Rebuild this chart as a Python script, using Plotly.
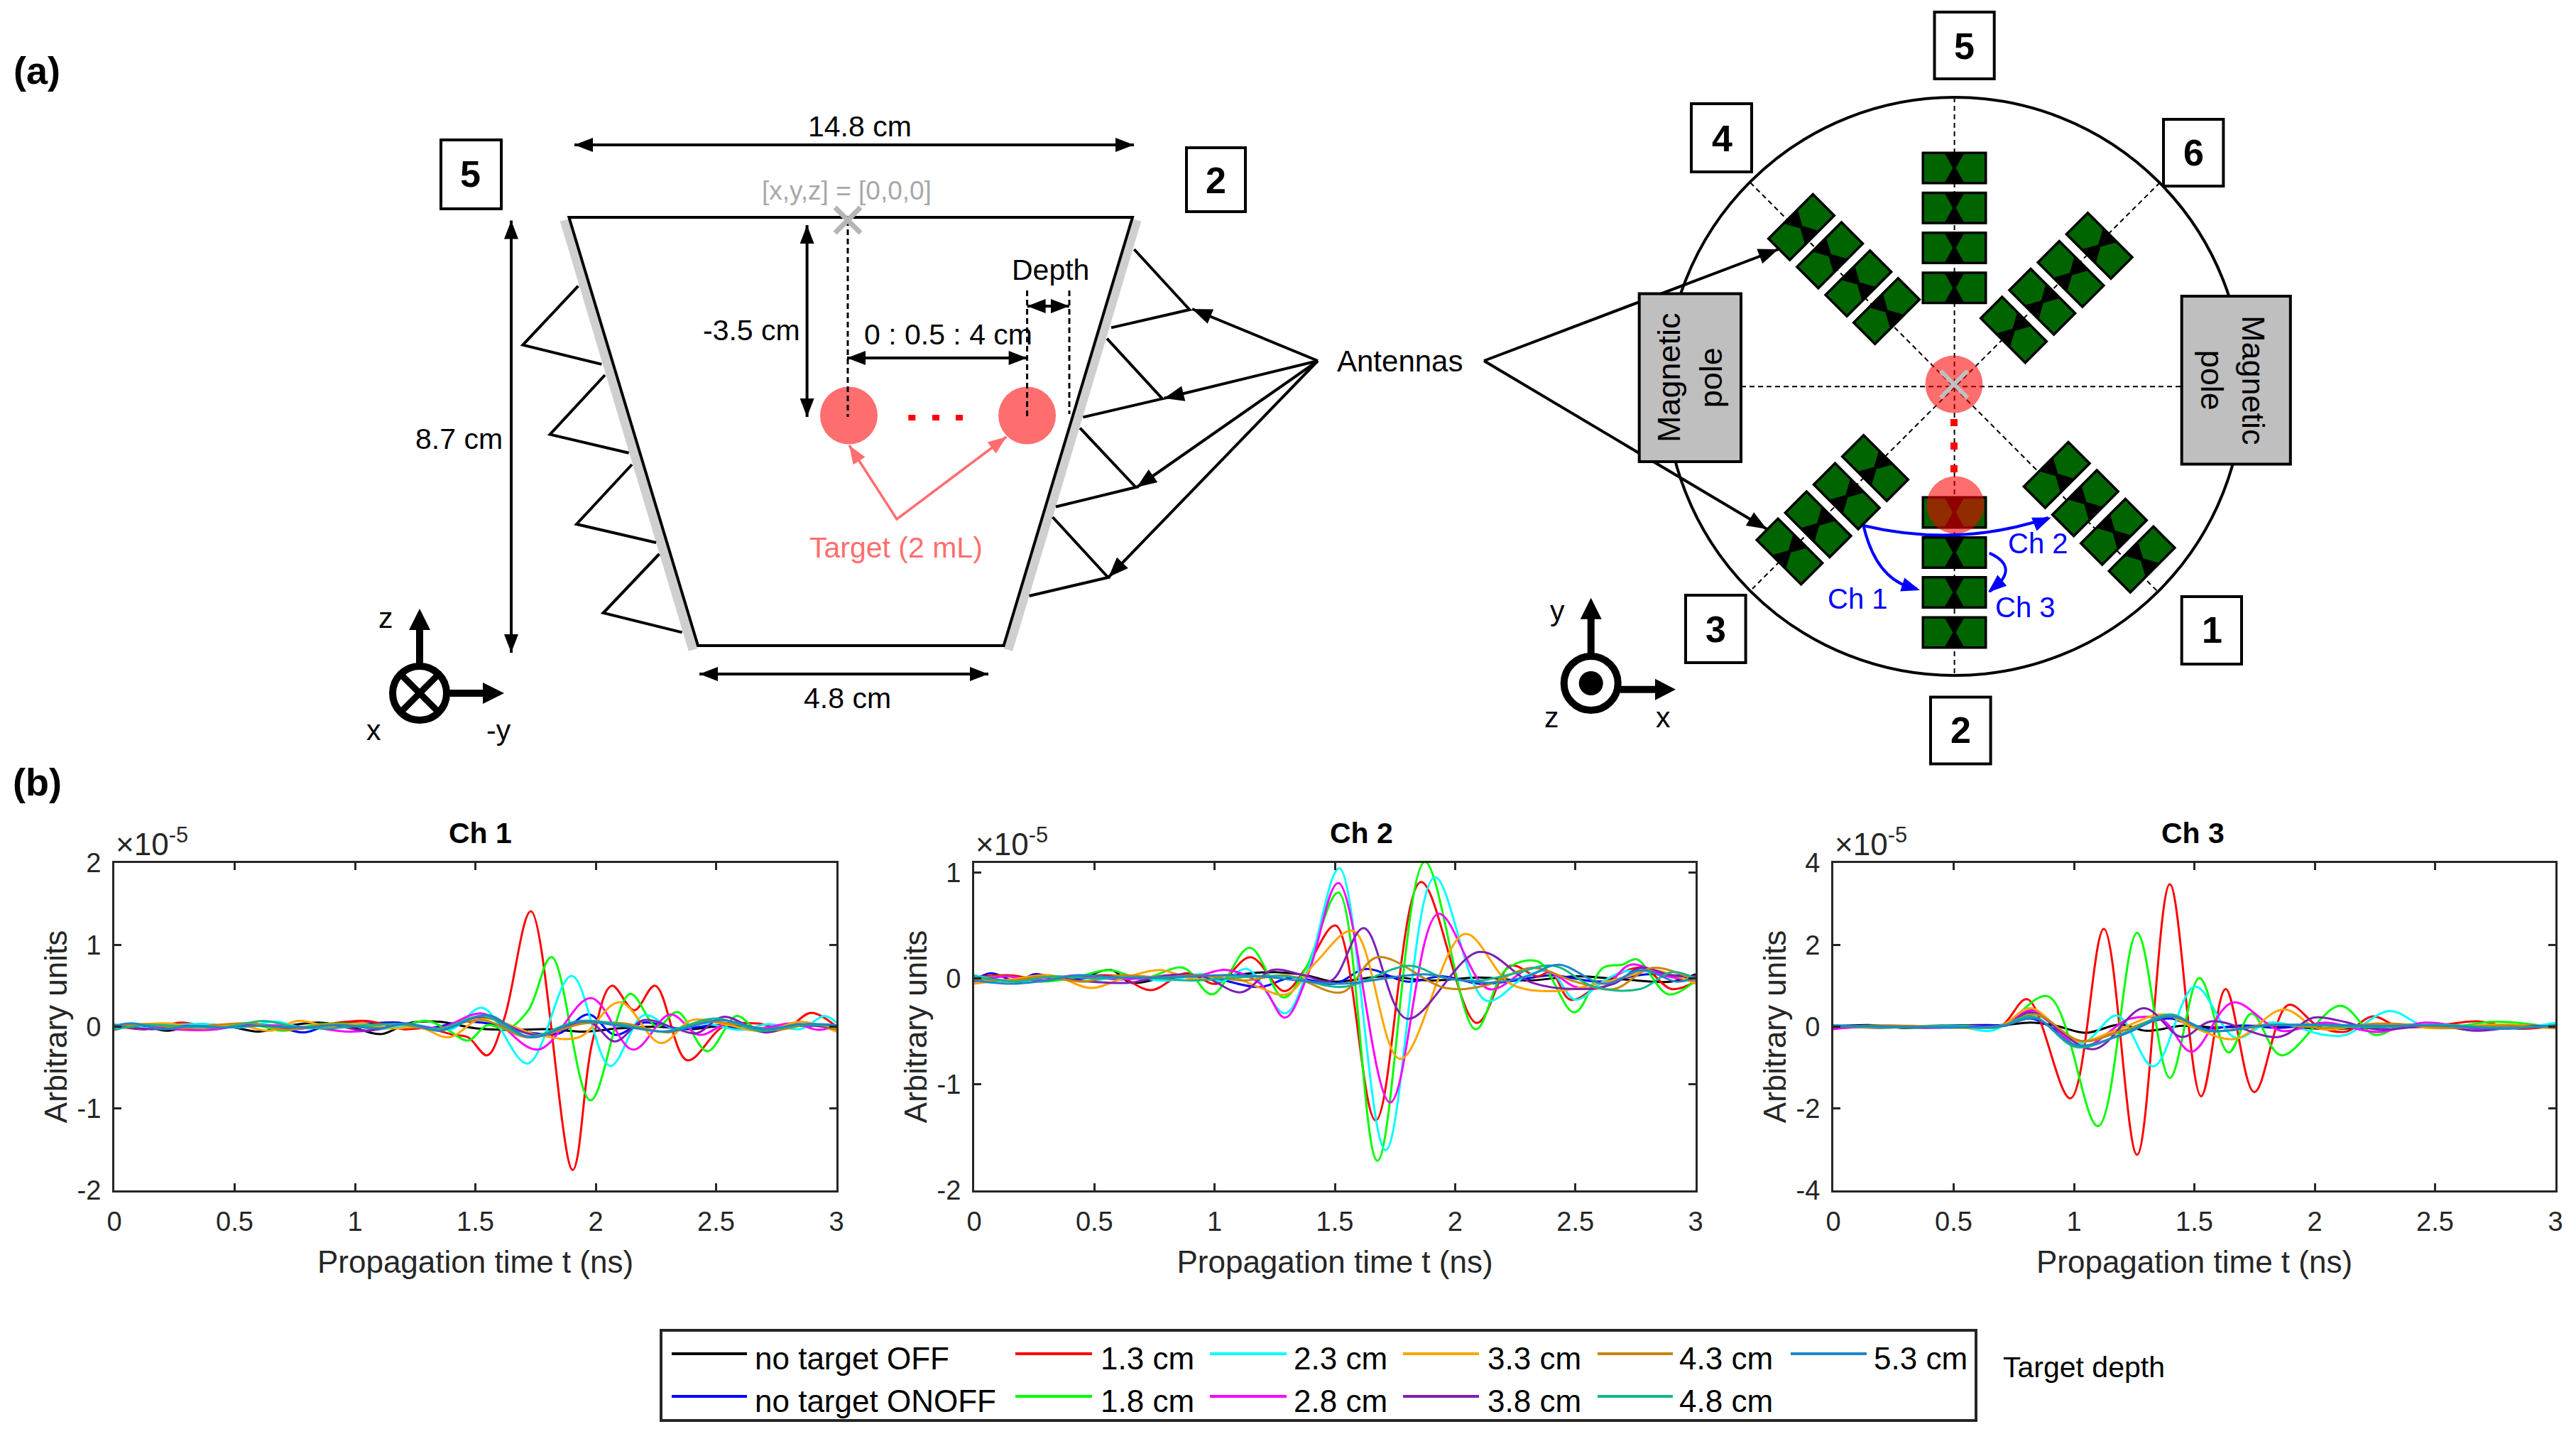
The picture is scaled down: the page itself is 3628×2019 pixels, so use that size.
import plotly.graph_objects as go

W, H = 3628, 2019
PAGE_MARGIN = 8  # the browser's default body margin
FW, FH = W - PAGE_MARGIN, H - PAGE_MARGIN

names = ["no target OFF", "no target ONOFF", "1.3 cm", "1.8 cm", "2.3 cm", "2.8 cm",
         "3.3 cm", "3.8 cm", "4.3 cm", "4.8 cm", "5.3 cm"]
colors = ["#000000", "#0000ff", "#ff0000", "#00ff00", "#00ffff", "#ff00ff",
          "#ffa500", "#7e1fb5", "#c8860d", "#14b88a", "#1f86c8"]

# ---------- Ch 1 (t in ns, amplitude in 1e-5) ----------
ch1_off = [(0,-.03),(.1,.02),(.22,-.05),(.35,.03),(.48,0),(.6,-.06),(.72,.01),(.85,.05),(1,-.02),(1.11,-.09),(1.22,.04),(1.35,.06),(1.5,-.02),(1.65,-.04),(1.8,-.03),(1.95,-.06),(2.1,-.02),(2.25,0),(2.4,-.03),(2.55,.02),(2.7,-.02),(2.85,.01),(3,.01)]
ch1_onoff = [(0,.02),(.12,-.03),(.25,.03),(.4,-.02),(.55,.02),(.68,-.01),(.79,-.07),(.9,.03),(1.05,.04),(1.18,.05),(1.3,-.02),(1.45,.06),(1.6,.02),(1.72,-.07),(1.85,-.08),(1.97,.15),(2.08,-.1),(2.2,.05),(2.35,-.03),(2.5,.02),(2.65,-.04),(2.8,.03),(3,-.01)]
ch1_13 = [(0,.01),(.13,-.03),(.28,.05),(.42,-.02),(.55,.03),(.7,-.03),(.85,.02),(1.05,.07),(1.2,-.03),(1.3,-.02),(1.41,-.1),(1.47,-.13),(1.549,-.35),(1.62,.1),(1.731,1.41),(1.904,-1.75),(1.985,-.2),(2.067,.5),(2.16,.2),(2.247,.5),(2.38,-.41),(2.53,0),(2.67,.04),(2.79,-.02),(2.895,.17),(3,0)]
ch1_18 = [(0,-.02),(.14,.02),(.3,-.03),(.45,.02),(.6,.01),(.7,-.05),(.85,.03),(1,.03),(1.15,-.02),(1.3,.07),(1.38,-.03),(1.47,-.17),(1.55,.02),(1.63,-.03),(1.72,.2),(1.817,.85),(1.978,-.9),(2.142,.4),(2.254,0),(2.34,.18),(2.463,-.3),(2.585,.13),(2.67,-.03),(2.8,.03),(3,-.02)]
ch1_23 = [(0,.03),(.1,-.02),(.24,.02),(.38,.03),(.52,-.01),(.67,.06),(.8,-.02),(.95,.02),(1.1,-.03),(1.25,.02),(1.4,-.03),(1.53,.23),(1.717,-.45),(1.9,.62),(2.06,-.48),(2.2,.14),(2.32,-.02),(2.45,.04),(2.6,-.04),(2.72,.03),(2.85,-.03),(2.95,.13),(3,.05)]
ch1_28 = [(0,-.04),(.1,.02),(.24,-.03),(.4,-.04),(.55,.02),(.7,.01),(.85,-.02),(.97,-.06),(1.1,-.03),(1.2,.04),(1.35,-.02),(1.53,.16),(1.76,-.28),(1.98,.35),(2.155,-.28),(2.31,.15),(2.43,-.1),(2.55,.04),(2.68,-.02),(2.82,.04),(2.93,-.04),(3,.02)]
ch1_33 = [(0,0),(.12,.03),(.23,.04),(.36,-.02),(.5,.03),(.65,-.05),(.76,.07),(.9,0),(1.02,.04),(1.15,-.02),(1.27,-.01),(1.39,-.13),(1.53,.1),(1.76,-.1),(1.93,-.13),(2.1,.3),(2.27,-.2),(2.4,.08),(2.55,.02),(2.7,-.06),(2.85,.06),(3,-.06)]
ch1_38 = [(0,.02),(.15,-.03),(.3,.01),(.45,-.01),(.6,.02),(.75,-.03),(.9,.02),(1.05,-.05),(1.2,.03),(1.35,-.03),(1.53,.12),(1.75,-.1),(1.97,.06),(2.08,-.18),(2.2,.08),(2.33,-.02),(2.42,-.08),(2.53,.12),(2.7,-.07),(2.85,.02),(3,-.03)]
ch1_43 = [(0,.01),(.13,.03),(.28,-.02),(.42,.02),(.58,.04),(.72,-.04),(.88,.03),(1.03,.01),(1.18,.03),(1.33,-.03),(1.53,.08),(1.72,-.13),(1.95,.04),(2.12,.04),(2.3,-.07),(2.45,.06),(2.6,.02),(2.75,-.04),(2.9,.03),(3,-.03)]
ch1_48 = [(0,-.03),(.15,.02),(.3,0),(.45,-.01),(.62,.07),(.75,0),(.9,-.02),(1.05,.02),(1.2,.03),(1.35,-.03),(1.53,.13),(1.72,-.12),(1.93,.07),(2.1,.03),(2.28,-.06),(2.5,.1),(2.68,-.05),(2.85,.02),(3,.01)]
ch1_53 = [(0,.01),(.08,.04),(.2,-.03),(.33,.01),(.46,-.01),(.6,.01),(.78,-.01),(.93,.02),(1.1,-.02),(1.22,.04),(1.35,-.05),(1.55,.14),(1.73,-.13),(1.93,.06),(2.1,.01),(2.3,-.06),(2.52,.08),(2.7,-.03),(2.85,.03),(3,.02)]

# ---------- Ch 2 ----------
ch2_off = [(0,.03),(.12,-.02),(.27,.02),(.42,-.01),(.57,.08),(.65,-.04),(.78,0),(.92,.02),(1.05,.03),(1.25,.06),(1.38,.03),(1.5,-.03),(1.7,.02),(1.9,-.02),(2.1,.01),(2.3,-.02),(2.5,.02),(2.7,-.01),(2.9,-.03),(3,.04)]
ch2_onoff = [(0,-.02),(.07,.05),(.18,-.03),(.25,.04),(.38,-.01),(.55,.02),(.75,-.01),(.95,.02),(1.19,-.08),(1.32,.01),(1.5,-.05),(1.63,.09),(1.8,-.03),(1.95,.02),(2.1,-.05),(2.25,-.02),(2.4,.03),(2.6,-.03),(2.8,.04),(3,.01)]
ch2_13 = [(0,.01),(.15,.03),(.3,-.02),(.45,.02),(.6,.02),(.735,-.11),(.88,.05),(1.01,-.05),(1.15,.2),(1.29,-.12),(1.38,.1),(1.503,.5),(1.67,-1.34),(1.858,.91),(2.09,-.42),(2.23,.12),(2.34,.02),(2.4,.06),(2.48,-.2),(2.64,0),(2.78,.1),(2.9,-.1),(3,-.03)]
ch2_18 = [(0,-.01),(.14,.02),(.28,-.03),(.42,.01),(.56,.08),(.7,0),(.87,.1),(.99,-.15),(1.146,.29),(1.286,-.18),(1.38,.1),(1.515,.81),(1.677,-1.72),(1.874,1.1),(2.085,-.48),(2.21,.08),(2.345,.16),(2.496,-.32),(2.615,.1),(2.695,.13),(2.756,.18),(2.887,-.15),(3,-.02)]
ch2_23 = [(0,.03),(.16,-.02),(.3,.02),(.46,-.03),(.62,.02),(.8,-.02),(.95,.04),(1.03,-.03),(1.135,.09),(1.293,-.33),(1.39,.1),(1.519,1.04),(1.711,-1.62),(1.915,.955),(2.13,-.21),(2.3,.03),(2.4,.06),(2.5,-.2),(2.62,-.02),(2.71,.07),(2.85,.05),(3,-.03)]
ch2_28 = [(0,-.03),(.13,.02),(.27,-.02),(.42,.03),(.6,-.01),(.78,.02),(.92,.02),(1.05,.08),(1.19,-.05),(1.293,-.37),(1.39,.05),(1.515,.9),(1.73,-1.17),(1.93,.61),(2.14,-.1),(2.32,.1),(2.42,.03),(2.5,-.08),(2.62,-.08),(2.73,.13),(2.88,.02),(3,-.02)]
ch2_33 = [(0,-.05),(.15,-.01),(.32,.03),(.486,-.09),(.63,.01),(.773,.08),(.92,-.01),(1.05,.03),(1.18,-.08),(1.3,-.15),(1.42,.15),(1.576,.45),(1.772,-.76),(2.04,.42),(2.23,-.05),(2.41,-.12),(2.59,-.05),(2.72,.02),(2.82,.08),(3,-.05)]
ch2_38 = [(0,.02),(.14,-.02),(.3,.01),(.48,-.03),(.65,-.04),(.8,.03),(.95,.02),(1.11,-.13),(1.24,.08),(1.37,.03),(1.485,-.02),(1.62,.475),(1.8,-.38),(2.1,.25),(2.32,-.04),(2.525,-.1),(2.66,-.05),(2.77,.1),(2.9,.03),(3,.02)]
ch2_43 = [(0,0),(.15,-.02),(.28,.02),(.45,-.03),(.6,.03),(.78,.01),(.95,.03),(1.12,-.02),(1.3,.03),(1.53,-.13),(1.677,.2),(1.96,-.09),(2.12,-.07),(2.32,.1),(2.5,-.03),(2.66,-.1),(2.82,.1),(3,-.02)]
ch2_48 = [(0,.02),(.17,-.03),(.33,.02),(.5,0),(.7,.01),(.9,-.02),(1.1,.01),(1.3,.02),(1.53,-.08),(1.81,.12),(1.95,.01),(2.1,-.02),(2.25,.05),(2.41,.12),(2.58,-.08),(2.77,-.1),(2.9,.06),(3,0)]
ch2_53 = [(0,-.02),(.15,-.05),(.3,-.02),(.43,.03),(.6,.01),(.8,.01),(1,.03),(1.2,.02),(1.35,-.02),(1.53,-.05),(1.87,.04),(2,-.01),(2.15,-.04),(2.3,.02),(2.43,.13),(2.62,-.05),(2.78,.08),(2.92,-.03),(3,.01)]

# ---------- Ch 3 ----------
ch3_off = [(0,.01),(.15,.04),(.3,-.03),(.45,.02),(.55,-.02),(.7,.03),(.82,.1),(.92,.03),(1.05,-.15),(1.19,.05),(1.3,-.1),(1.45,.02),(1.6,-.02),(1.75,.02),(1.9,0),(2.05,-.06),(2.3,.01),(2.6,-.03),(3,.01)]
ch3_onoff = [(0,.02),(.2,-.02),(.42,.02),(.6,.04),(.72,.05),(.82,.2),(1.03,-.35),(1.2,-.1),(1.4,.2),(1.52,-.05),(1.7,.03),(1.85,-.03),(2,.05),(2.2,-.03),(2.45,.03),(2.7,-.05),(3,.02)]
ch3_13 = [(0,.02),(.2,-.03),(.4,.02),(.6,-.02),(.7,.03),(.806,.67),(.985,-1.75),(1.124,2.39),(1.262,-3.13),(1.398,3.48),(1.528,-1.7),(1.63,.92),(1.749,-1.6),(1.89,.53),(2.017,0),(2.13,-.12),(2.24,.25),(2.35,0),(2.5,.02),(2.676,.13),(2.85,-.05),(3,.02)]
ch3_18 = [(0,-.02),(.18,.02),(.35,-.03),(.55,.02),(.7,.03),(.893,.74),(1.1,-2.43),(1.262,2.29),(1.398,-1.25),(1.521,1.19),(1.642,-.63),(1.738,.32),(1.861,-.7),(2.106,.51),(2.25,-.2),(2.37,.05),(2.55,-.02),(2.75,.12),(3,-.02)]
ch3_23 = [(0,.04),(.2,-.02),(.4,.01),(.55,-.03),(.655,-.1),(.83,.35),(1.03,-.4),(1.18,.27),(1.33,-.97),(1.503,.98),(1.67,-.27),(1.816,.1),(2.04,-.2),(2.13,-.2),(2.31,.38),(2.46,0),(2.65,-.03),(2.85,-.02),(3,.09)]
ch3_28 = [(0,-.06),(.2,.02),(.38,-.03),(.58,.01),(.7,.02),(.83,.4),(1.03,-.5),(1.235,.2),(1.37,.15),(1.488,-.61),(1.66,.59),(1.86,-.1),(2.04,.1),(2.26,-.13),(2.46,.1),(2.68,-.05),(2.88,.02),(3,-.03)]
ch3_33 = [(0,.02),(.15,-.01),(.33,.02),(.55,-.03),(.7,.03),(.82,.45),(1.01,-.35),(1.19,-.05),(1.37,.3),(1.5,-.03),(1.67,-.3),(1.87,.42),(2.02,-.05),(2.26,.08),(2.5,-.04),(2.75,.05),(3,-.02)]
ch3_38 = [(0,-.02),(.2,.02),(.45,-.02),(.65,.01),(.72,.03),(.82,.35),(1.08,-.55),(1.29,.45),(1.448,-.25),(1.57,.13),(1.85,-.25),(1.995,.22),(2.1,.15),(2.26,-.07),(2.5,.03),(2.67,-.1),(2.9,.02),(3,-.03)]
ch3_43 = [(0,0),(.25,.03),(.5,-.02),(.7,.03),(.84,.3),(1.03,-.35),(1.2,-.1),(1.4,.25),(1.56,-.1),(1.82,.05),(2.05,-.03),(2.3,.08),(2.55,-.03),(2.8,.03),(3,-.04)]
ch3_48 = [(0,.02),(.22,-.02),(.48,.02),(.68,-.02),(.83,.25),(1.01,-.5),(1.21,-.15),(1.4,.3),(1.55,-.1),(1.8,.03),(2,.03),(2.25,-.01),(2.5,.05),(2.8,-.03),(3,.03)]
ch3_53 = [(0,.03),(.25,0),(.5,-.02),(.7,.02),(.84,.2),(1.01,-.45),(1.2,-.2),(1.4,.25),(1.57,-.1),(1.8,.03),(2,.05),(2.25,.02),(2.5,.03),(2.8,-.05),(3,.04)]

ch1_series = [ch1_off, ch1_onoff, ch1_13, ch1_18, ch1_23, ch1_28, ch1_33, ch1_38, ch1_43, ch1_48, ch1_53]
ch2_series = [ch2_off, ch2_onoff, ch2_13, ch2_18, ch2_23, ch2_28, ch2_33, ch2_38, ch2_43, ch2_48, ch2_53]
ch3_series = [ch3_off, ch3_onoff, ch3_13, ch3_18, ch3_23, ch3_28, ch3_33, ch3_38, ch3_43, ch3_48, ch3_53]

time_ticks = [0, 0.5, 1, 1.5, 2, 2.5, 3]
time_labels = ["0", "0.5", "1", "1.5", "2", "2.5", "3"]
ch1_ticks, ch1_labels = [-2, -1, 0, 1, 2], ["-2", "-1", "0", "1", "2"]
ch2_ticks, ch2_labels = [-2, -1, 0, 1], ["-2", "-1", "0", "1"]
ch3_ticks, ch3_labels = [-4, -2, 0, 2, 4], ["-4", "-2", "0", "2", "4"]
panels = [
    dict(title="Ch 1", series=ch1_series, left=161, right=1178, tc=676, yr=[-2, 2], yt=ch1_ticks, yl=ch1_labels),
    dict(title="Ch 2", series=ch2_series, left=1372, right=2388, tc=1917, yr=[-2, 1.09], yt=ch2_ticks, yl=ch2_labels),
    dict(title="Ch 3", series=ch3_series, left=2582, right=3599, tc=3088, yr=[-4, 4], yt=ch3_ticks, yl=ch3_labels),
]
TOP, BOT = 1215, 1676
INK = "#262626"
FONT = "Liberation Sans"

fig = go.Figure()
layout = dict(width=FW, height=FH, margin=dict(l=0, r=0, t=0, b=0, autoexpand=False), autosize=False,
              paper_bgcolor="white", plot_bgcolor="rgba(0,0,0,0)", showlegend=False,
              font=dict(family=FONT, size=40, color="black"),
              xaxis4=dict(domain=[0, 1], range=[PAGE_MARGIN, W], visible=False, fixedrange=True, anchor="y4", automargin=False),
              yaxis4=dict(domain=[0, 1], range=[H, PAGE_MARGIN], visible=False, fixedrange=True, anchor="x4", automargin=False))
shapes, anns = [], []

for i, p in enumerate(panels):
    s = "" if i == 0 else str(i + 1)
    for nm, c, pts in zip(names, colors, p["series"]):
        fig.add_trace(go.Scatter(x=[a for a, _ in pts], y=[b for _, b in pts], name=nm, mode="lines",
                                 line=dict(color=c, width=3, shape="spline", smoothing=1.0),
                                 xaxis="x" + s, yaxis="y" + s))
    common = dict(showgrid=False, zeroline=False, showline=True, linecolor=INK, linewidth=3,
                  mirror="ticks", ticks="inside", ticklen=10, tickwidth=2.5, tickcolor=INK,
                  tickfont=dict(family=FONT, size=38, color=INK), fixedrange=True, automargin=False)
    layout["xaxis" + s] = dict(common, domain=[(p["left"] - PAGE_MARGIN) / FW, (p["right"] - PAGE_MARGIN) / FW],
                               range=[0, 3], tickvals=time_ticks, ticktext=time_labels, anchor="y" + s,
                               ticklabelstandoff=8,
                               title=dict(text="Propagation time t (ns)", standoff=22,
                                          font=dict(family=FONT, size=44, color=INK)))
    layout["yaxis" + s] = dict(common, domain=[1 - (BOT - PAGE_MARGIN) / FH, 1 - (TOP - PAGE_MARGIN) / FH],
                               range=p["yr"], tickvals=p["yt"], ticktext=p["yl"], anchor="x" + s,
                               ticklabelstandoff=8,
                               title=dict(text="Arbitrary units", standoff=1,
                                          font=dict(family=FONT, size=44, color=INK)))
    anns.append(dict(text="<b>%s</b>" % p["title"], x=p["tc"], y=1173, font_size=41))
    anns.append(dict(text="×10<sup>-5</sup>", x=p["left"], y=1185, xanchor="left",
                     font=dict(size=44, color=INK, family=FONT)))


# ---------- drawing helpers: shapes in a full-figure pixel frame ----------
def shp(**k):
    k.setdefault("xref", "x4")
    k.setdefault("yref", "y4")
    shapes.append(k)


def line(x0, y0, x1, y1, w=4, c="black", dash="solid"):
    shp(type="line", x0=x0, y0=y0, x1=x1, y1=y1, line=dict(color=c, width=w, dash=dash))


def poly(pts, fill=None, w=0, c="black", closed=True):
    d = "M " + " L ".join("%.1f,%.1f" % q for q in pts) + (" Z" if closed else "")
    shp(type="path", path=d, fillcolor=fill if fill else "rgba(0,0,0,0)",
        line=dict(color=c, width=w))


def rect(x0, y0, x1, y1, fill="white", w=4, c="black"):
    shp(type="rect", x0=x0, y0=y0, x1=x1, y1=y1, fillcolor=fill, line=dict(color=c, width=w))


def circ(cx, cy, r, fill="rgba(0,0,0,0)", w=0, c="black"):
    shp(type="circle", x0=cx - r, y0=cy - r, x1=cx + r, y1=cy + r, fillcolor=fill,
        line=dict(color=c, width=w))


def head(tx, ty, fx, fy, L=26, hw=10, c="black"):
    dx, dy = tx - fx, ty - fy
    n = (dx * dx + dy * dy) ** .5
    dx, dy = dx / n, dy / n
    bx, by = tx - dx * L, ty - dy * L
    poly([(tx, ty), (bx - dy * hw, by + dx * hw), (bx + dy * hw, by - dx * hw)], fill=c, c=c)


def arrow(x0, y0, x1, y1, both=False, w=4, c="black", L=26, hw=10):
    line(x0, y0, x1, y1, w, c)
    head(x1, y1, x0, y0, L, hw, c)
    if both:
        head(x0, y0, x1, y1, L, hw, c)


def txt(text, x, y, size=41, color="black", **k):
    anns.append(dict(text=text, x=x, y=y, font=dict(size=size, color=color, family=FONT), **k))


def num_box(x0, y0, x1, y1, label, tx, ty):
    rect(x0, y0, x1, y1)
    txt("<b>%s</b>" % label, tx, ty, size=52)


TARGET = "#ff6e6e"
WALL = "#cfcfcf"
GREY = "#b5b5b5"

txt("<b>(a)</b>", 52, 99, size=54)
txt("<b>(b)</b>", 52, 1101, size=54)

# ---------- left diagram ----------
line(795, 310, 976, 915, 13, WALL)
line(1601, 310, 1420, 915, 13, WALL)
poly([(801.4, 306), (1595, 306), (1413.6, 909), (983, 909)], w=4)
for tri in [[(814.4, 402.6), (736.4, 485.7), (847.3, 512.9)], [(852, 528), (774.6, 611.7), (885.6, 637.7)],
            [(890, 654), (812, 738), (924, 764)], [(928.5, 780), (849.6, 863), (960.6, 890.4)],
            [(1597.3, 351), (1675.4, 436), (1565, 461.4)], [(1559, 476.6), (1637, 561.4), (1525.4, 587.4)],
            [(1521, 602.6), (1599.6, 686), (1487, 713.5)], [(1482.5, 728), (1560.6, 813), (1449.6, 839)]]:
    poly(tri, w=4, closed=False)
arrow(809, 204, 1597, 204, both=True)
txt("14.8 cm", 1211, 178)
num_box(621, 197, 706, 294, "5", 662, 245)
num_box(1671, 208, 1754, 298, "2", 1712, 254)
txt("[x,y,z] = [0,0,0]", 1192, 268, size=37, color="#a8a8a8")
circ(1195.5, 585, 40.5, fill=TARGET)
circ(1446.6, 585, 40.5, fill=TARGET)
for x in (1284.3, 1318, 1351):
    rect(x - 5, 584, x + 5, 592, fill="#ff0000", w=0)
line(1194, 310, 1194, 587, 3, dash="8px,5px")
line(1446.6, 409, 1446.6, 587, 3, dash="8px,5px")
line(1506, 409, 1506, 583, 3, dash="8px,5px")
line(1176, 292, 1212, 328, 7, GREY)
line(1212, 292, 1176, 328, 7, GREY)
arrow(1136.6, 317, 1136.6, 587, both=True)
txt("-3.5 cm", 1058, 465)
arrow(1193, 504, 1446.6, 504, both=True)
txt("0 : 0.5 : 4 cm", 1335.6, 471)
arrow(1446.6, 431, 1506, 431, both=True)
txt("Depth", 1479.5, 380)
poly([(1196, 627), (1263, 731), (1417.5, 615)], w=3.5, c=TARGET, closed=False)
head(1196, 627, 1263, 731, c=TARGET)
head(1417.5, 615, 1263, 731, c=TARGET)
txt("Target (2 mL)", 1262, 771, color=TARGET)
arrow(720, 310.5, 720, 919, both=True)
txt("8.7 cm", 646, 618)
arrow(985, 949, 1392, 949, both=True)
txt("4.8 cm", 1193, 983)

# left axis icon
circ(591, 976, 38, fill="white", w=10)
line(564, 949, 618, 1003, 9)
line(618, 949, 564, 1003, 9)
line(591, 938, 591, 880, 10)
poly([(591, 857), (576, 887), (606, 887)], fill="black")
line(629, 976, 680, 976, 10)
poly([(710, 976), (680, 961), (680, 991)], fill="black")
txt("z", 543, 870)
txt("x", 526, 1028)
txt("-y", 702, 1028)

# Antennas callouts
for tx, ty in [(1679, 435), (1639.5, 560.7), (1601, 686), (1561.4, 812.5)]:
    arrow(1856, 508, tx, ty, w=4, L=28, hw=11)
txt("Antennas", 1971, 508, size=42)
arrow(2090, 508, 2504.5, 351, w=4, L=28, hw=11)
arrow(2090, 508, 2488.5, 745, w=4, L=28, hw=11)

# ---------- right diagram ----------
circ(2752.6, 544, 407, fill="rgba(0,0,0,0)", w=4)
for seg in [(2452, 544.3, 3073, 544.3), (2752.6, 137, 2752.6, 951), (2465, 257, 3039, 833), (3042, 257, 2468, 829)]:
    line(*seg, w=2, dash="7px,5px")

DG = "#006400"
unit_cols = {
    "v": (1.0, 0.0),
    "a": (0.7071, -0.7071),
    "b": (0.7071, 0.7071),
}


def unit(cx, cy, kind):
    ux, uy = unit_cols[kind]
    vx, vy = -uy, ux
    def pt(a, b):
        return (cx + ux * a + vx * b, cy + uy * a + vy * b)
    poly([pt(-46, -23), pt(46, -23), pt(46, 23), pt(-46, 23)], fill="black")
    poly([pt(-42.5, -19.5), pt(-13, -19.5), pt(-2.2, 0), pt(-13, 19.5), pt(-42.5, 19.5)], fill=DG)
    poly([pt(42.5, -19.5), pt(13, -19.5), pt(2.2, 0), pt(13, 19.5), pt(42.5, 19.5)], fill=DG)


for cy in (236.4, 292.7, 349, 405.3, 721.6, 778, 834, 890.5):
    unit(2752.5, cy, "v")
for c in [(2537, 319.8), (2577.2, 359.4), (2617.4, 399), (2657, 438),
          (2896.7, 668.7), (2936.9, 708.4), (2977, 748.7), (3016.6, 787.6)]:
    unit(c[0], c[1], "a")
for c in [(2956.7, 346), (2916.5, 385.8), (2876.3, 424.8), (2836, 464.4),
          (2641, 659), (2600.8, 698.6), (2560.6, 738.3), (2520.4, 776.5)]:
    unit(c[0], c[1], "b")

rect(2308.7, 413.6, 2452, 650, fill="#bfbfbf")
rect(3072.7, 417, 3225.8, 653.5, fill="#bfbfbf")
txt("Magnetic<br>pole", 2380, 532, size=45, textangle=-90)
txt("Magnetic<br>pole", 3144, 535, size=45, textangle=90)

TRED = "rgba(255,0,0,0.57)"
circ(2752, 541, 40.5, fill=TRED)
circ(2754, 711, 40.5, fill=TRED)
line(2733, 522, 2771, 560, 6, "#c0c0c0")
line(2771, 522, 2733, 560, 6, "#c0c0c0")
for y in (595, 628, 660):
    rect(2747, y - 5, 2757, y + 5, fill="#ff0000", w=0)

BLUE = "#0000ff"
shp(type="path", path="M 2624.4,740 Q 2643.5,820 2700,829", line=dict(color=BLUE, width=4),
    fillcolor="rgba(0,0,0,0)")
head(2704, 831, 2670, 820, c=BLUE)
shp(type="path", path="M 2624.4,740 Q 2758,771.6 2885,729", line=dict(color=BLUE, width=4),
    fillcolor="rgba(0,0,0,0)")
head(2889, 728.5, 2850, 744, c=BLUE)
shp(type="path", path="M 2801.7,778.6 Q 2847.6,799.5 2802,833", line=dict(color=BLUE, width=4),
    fillcolor="rgba(0,0,0,0)")
head(2800, 834, 2826, 812, c=BLUE)
txt("Ch 1", 2616, 842.5, size=40, color=BLUE)
txt("Ch 2", 2870, 765, size=40, color=BLUE)
txt("Ch 3", 2852, 855, size=40, color=BLUE)

num_box(2724.5, 17, 2808.7, 111, "5", 2766, 65)
num_box(2382, 146, 2467, 242, "4", 2425, 195)
num_box(3047, 168, 3131.4, 262, "6", 3089, 215)
num_box(2374, 838, 2458.6, 933, "3", 2416, 886)
num_box(3072.7, 840, 3157, 935, "1", 3115, 887)
num_box(2719, 981.6, 2803.6, 1075.4, "2", 2761, 1028)

# right axis icon
circ(2240.7, 962, 38, fill="white", w=10)
circ(2240.7, 962, 17, fill="black")
line(2240.7, 925, 2240.7, 871, 10)
poly([(2240.7, 841.7), (2225.7, 871.7), (2255.7, 871.7)], fill="black")
line(2281.7, 970.7, 2331, 970.7, 10)
poly([(2360, 970.7), (2331, 955.7), (2331, 985.7)], fill="black")
txt("y", 2193, 860)
txt("z", 2185, 1010)
txt("x", 2342.7, 1010)

# ---------- legend ----------
legend_rows = [1906, 1966]
legend_keys = [(946, 1052, 1061), (1430, 1538, 1548), (1704, 1812, 1820), (1976, 2083, 2093), (2250, 2356, 2363), (2522, 2629, 2637)]
rect(931, 1873, 2783, 2000, fill="white", w=4, c=INK)
for k, (nm, c) in enumerate(zip(names, colors)):
    col, row = k // 2, k % 2
    x0, x1, xt = legend_keys[col]
    line(x0, legend_rows[row], x1, legend_rows[row], 4, c)
    txt(nm, xt, legend_rows[row] + 6, size=44, xanchor="left")
txt("Target depth", 2819, 1925, size=41, xanchor="left")

for a in anns:
    a.setdefault("xref", "x4")
    a.setdefault("yref", "y4")
    a.setdefault("showarrow", False)
    a.setdefault("yanchor", "middle")
    a.setdefault("xanchor", "center")

layout["shapes"] = shapes
layout["annotations"] = anns
fig.update_layout(**layout)
fig.write_html("out.html")
